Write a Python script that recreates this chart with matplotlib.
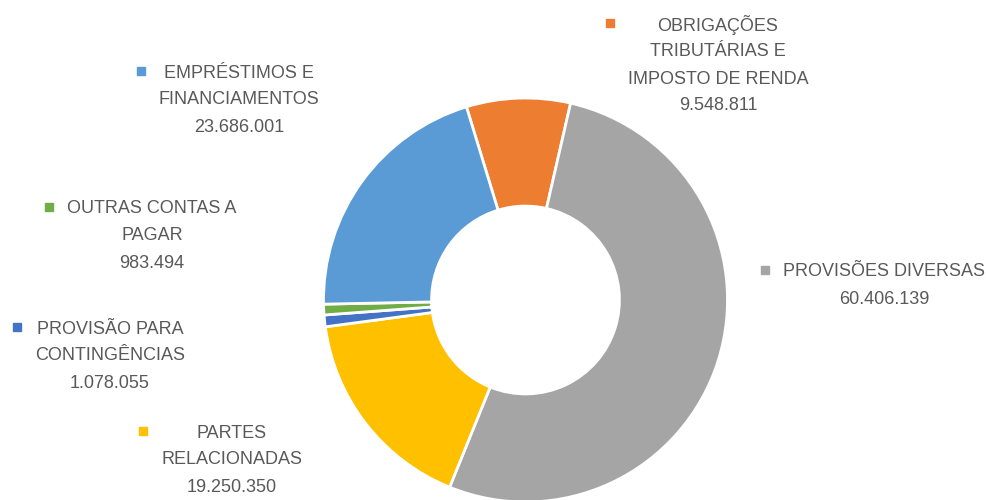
import matplotlib
matplotlib.use("Agg")
import matplotlib.pyplot as plt
from matplotlib.lines import Line2D

# Dados do grafico (sentido horario a partir do topo)
categorias = [
    "OBRIGAÇÕES\nTRIBUTÁRIAS E\nIMPOSTO DE RENDA",
    "PROVISÕES DIVERSAS",
    "PARTES\nRELACIONADAS",
    "PROVISÃO PARA\nCONTINGÊNCIAS",
    "OUTRAS CONTAS A\nPAGAR",
    "EMPRÉSTIMOS E\nFINANCIAMENTOS",
]
valores = [9548811, 60406139, 19250350, 1078055, 983494, 23686001]
cores = ["#ED7D31", "#A5A5A5", "#FFC000", "#4472C4", "#70AD47", "#5B9BD5"]

# posicao dos rotulos em pixels (centro do bloco em x, centro da 1a linha em y)
pos_rotulos = [(718, 23), (884, 270), (232, 431), (110, 327), (152, 207), (239, 71)]

W, H = 987, 500
plt.rcParams["font.family"] = ["Liberation Sans", "DejaVu Sans"]

fig = plt.figure(figsize=(W / 100, H / 100), dpi=100)
fig.patch.set_facecolor("white")

# donut: centro (525, 300), raio 202 px
cx, cy, r = 525.5, 300, 202
ax = fig.add_axes([(cx - r) / W, (H - cy - r) / H, 2 * r / W, 2 * r / H])
ax.pie(valores, colors=cores, startangle=107, counterclock=False,
       wedgeprops=dict(width=0.535, edgecolor="white", linewidth=2))
ax.set_xlim(-1, 1)
ax.set_ylim(-1, 1)
ax.set_aspect("equal")
ax.axis("off")

passo = 27  # espacamento entre linhas (px)
blocos = []
for cat, val, (x, y) in zip(categorias, valores, pos_rotulos):
    linhas = cat.split("\n") + [f"{val:,}".replace(",", ".")]
    ts = []
    for i, linha in enumerate(linhas):
        t = fig.text(x / W, 1 - (y + i * passo) / H, linha, ha="center",
                     va="center_baseline", fontsize=13, color="#595959")
        ts.append(t)
    blocos.append(ts)

# quadradinho da legenda a esquerda do bloco
fig.canvas.draw()
for ts, cor, (x, y) in zip(blocos, cores, pos_rotulos):
    x0 = min(t.get_window_extent().x0 for t in ts)
    mx = x0 - 18
    fig.add_artist(Line2D([mx / W], [1 - y / H], marker="s", markersize=6,
                          color=cor, linestyle="none",
                          transform=fig.transFigure))

fig.savefig("out.png", dpi=100)
